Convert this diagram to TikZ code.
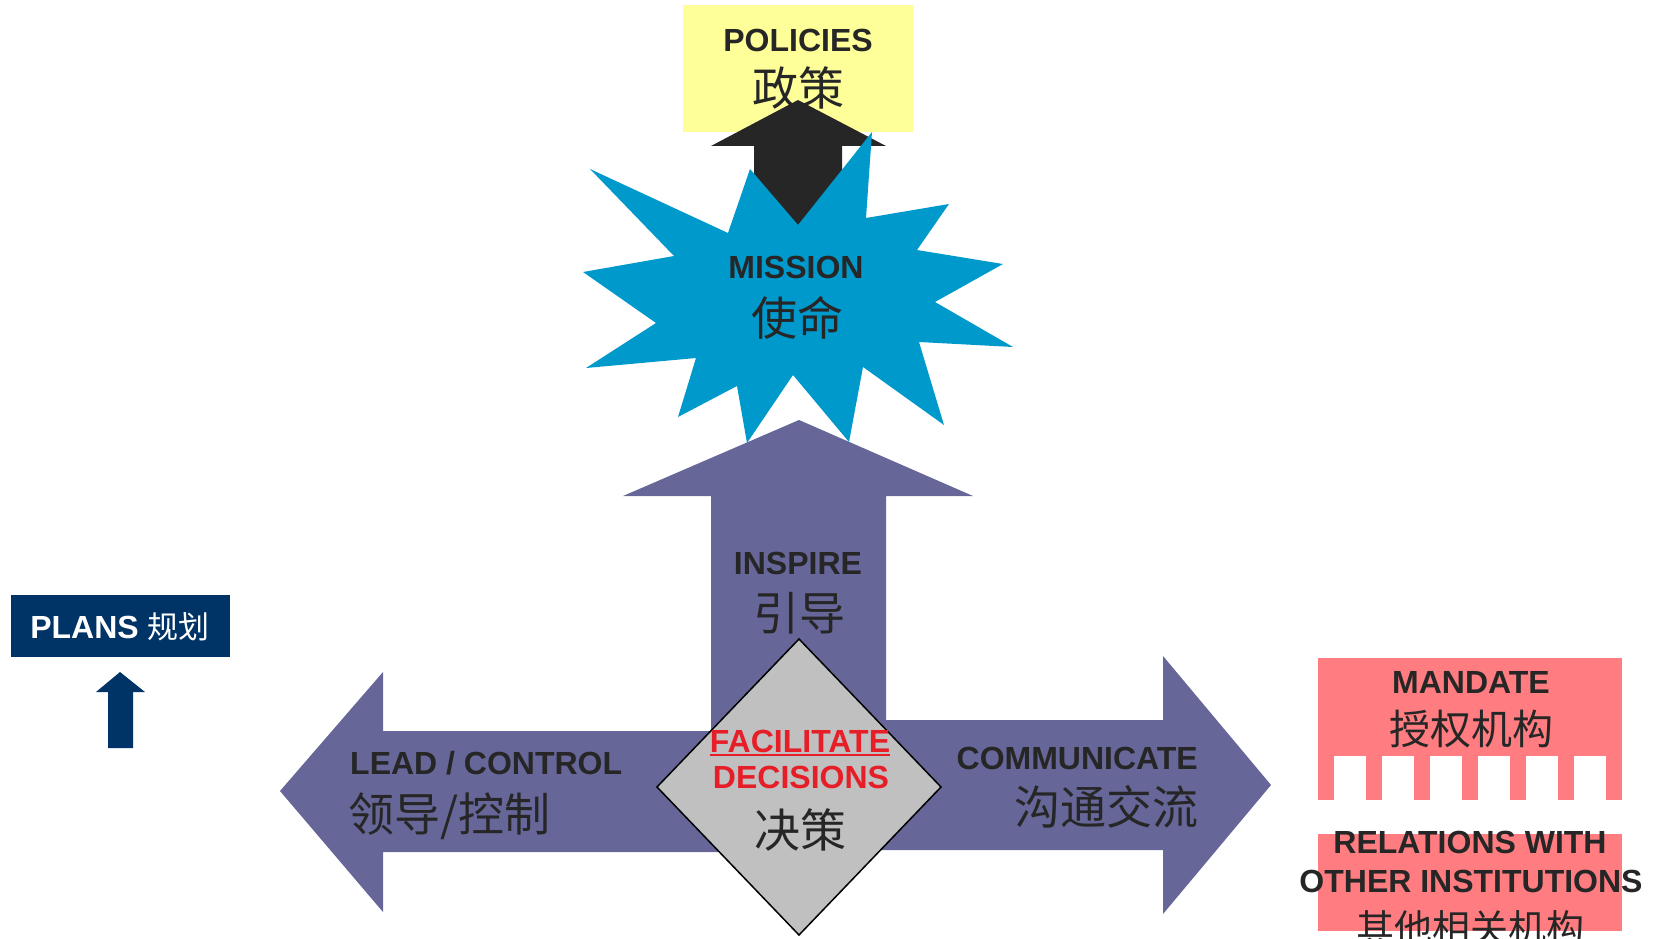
\documentclass[tikz,border=0pt]{standalone}
\usepackage{fontspec}
\setmainfont{Liberation Sans}
\newfontfamily\cjk{Noto Sans CJK SC}
\definecolor{txt}{RGB}{38,38,38}
\definecolor{purp}{RGB}{102,102,153}
\definecolor{starblue}{RGB}{0,153,204}
\definecolor{ylw}{RGB}{255,255,153}
\definecolor{pinkc}{RGB}{255,124,128}
\definecolor{navy}{RGB}{0,51,102}
\definecolor{redt}{RGB}{230,30,40}
\definecolor{grayd}{RGB}{192,192,192}
\begin{document}
\begin{tikzpicture}[x=1pt,y=-1pt,
  lat/.style={font=\fontsize{32}{37}\selectfont\bfseries, text=txt, inner sep=0pt, anchor=base},
  zh/.style={font=\cjk\fontsize{46}{52}\selectfont, text=txt, inner sep=0pt, anchor=base},
  zhs/.style={font=\cjk\fontsize{41}{47}\selectfont, text=txt, inner sep=0pt, anchor=base},
  boxr/.style={rectangle, inner sep=0pt, draw=none}]
\useasboundingbox (0,0) rectangle (1658,939);

% policies box
\node (polbox) [boxr, fill=ylw, minimum width=230pt, minimum height=127pt] at (798,68.5) {};
\node (pol) [lat] at (798,52) {POLICIES};
\node (polzh) [zh] at (798,106) {政策};

% black arrow up
\fill[txt] (798,100) -- (886,146) -- (842,146) -- (842,240) -- (754,240) -- (754,146) -- (711,146) -- cycle;

% star
\fill[starblue] (750,169) -- (798,225) -- (872,132) -- (866,218) -- (949,204) -- (917,250)
  -- (1003,264) -- (935,302) -- (1013,347) -- (919,342) -- (944,425) -- (863,367)
  -- (849,442) -- (793,375) -- (747,443) -- (737,386) -- (678,417) -- (696,358)
  -- (586,368) -- (656,323) -- (583,272) -- (674,256) -- (590,169) -- (728,233) -- cycle;
\node (mis) [lat] at (796,278) {MISSION};
\node (miszh) [zh] at (797,335) {使命};

% purple arrows
\fill[purp] (799,420) -- (973,496) -- (886,496) -- (886,790) -- (711,790) -- (711,496) -- (623,496) -- cycle;
\fill[purp] (280,791) -- (383,672) -- (383,731) -- (800,731) -- (800,852) -- (383,852) -- (383,912) -- cycle;
\fill[purp] (1271,785) -- (1163,656) -- (1163,720) -- (800,720) -- (800,850) -- (1163,850) -- (1163,914) -- cycle;

\node (ins) [lat] at (798,574) {INSPIRE};
\node (inszh) [zh] at (799,630) {引导};
\node (lead) [lat, anchor=base west] at (350,774) {LEAD / CONTROL};
\node (leadzh) [zh, anchor=base west] at (348,831) {领导/控制};
\node (com) [lat, anchor=base east] at (1198,769) {COMMUNICATE};
\node (comzh) [zh, anchor=base east] at (1199,824) {沟通交流};

% diamond
\fill[grayd, draw=black, line width=1.5pt] (799,639) -- (941,787) -- (799,935) -- (657,787) -- cycle;
\node (fac) [lat, text=redt] at (800,752) {FACILITATE};
\draw[redt, line width=2.2pt] ([yshift=-3pt]fac.base west) -- ([yshift=-3pt]fac.base east);
\node (dec) [lat, text=redt] at (801,788) {DECISIONS};
\node (deczh) [zh] at (800,847) {决策};

% plans
\node (plbox) [boxr, fill=navy, minimum width=219pt, minimum height=62pt] at (120.5,626) {};
\node (pl) [lat, text=white] at (120,638) {PLANS {\cjk\mdseries\fontsize{31}{36}\selectfont 规划}};
\fill[navy] (120,672) -- (145,692) -- (133,692) -- (133,748) -- (108,748) -- (108,692) -- (96,692) -- cycle;

% mandate
\fill[pinkc] (1318,658) rectangle (1622,756);
\foreach \x in {1318,1366,1414,1462,1510,1558,1606} \fill[pinkc] (\x,755) rectangle (\x+16,800);
\node (man) [lat] at (1471,693) {MANDATE};
\node (manzh) [zhs] at (1471,744) {授权机构};

% relations
\node (relbox) [boxr, fill=pinkc, minimum width=304pt, minimum height=97pt] at (1470,882.5) {};
\node (rel1) [lat] at (1470,853) {RELATIONS WITH};
\node (rel2) [lat] at (1471,892) {OTHER INSTITUTIONS};
\node (relzh) [zhs, font=\cjk\fontsize{38}{43}\selectfont] at (1470,942) {其他相关机构};
\end{tikzpicture}
\end{document}
